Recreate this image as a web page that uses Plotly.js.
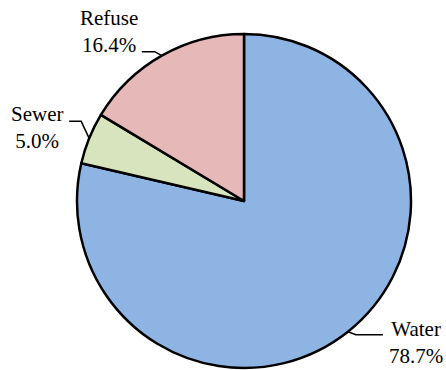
<!DOCTYPE html>
<html>
<head>
<meta charset="utf-8">
<script src="https://cdn.plot.ly/plotly-3.0.1.min.js"></script>
<style>html,body{margin:0;padding:0;background:#fff;}#chart{width:446px;height:370px;}</style>
</head>
<body>
<div id="chart"></div>
<script>
// ---- data ----
var labels = ['Water', 'Sewer', 'Refuse'];
var values = [78.7, 5.0, 16.4];
var pctLabels = ['78.7%', '5.0%', '16.4%'];
var colors = ['#8EB4E3', '#D7E4BD', '#E6B9B8'];

// ---- layout geometry (pixels) ----
var W = 446, H = 370;
var cx = 244, cy = 201, R = 167;
// per-slice leader styling: elbow offset from slice edge, horizontal run, label side/offsets
var leaderStyle = [
  {edx: 8, edy: 3, run: 27, side: 'left', tdx: 4, tdy: 7.5},
  {edx: -8, edy: -17, run: -12, side: 'right', tdx: -4, tdy: 6},
  {edx: -7, edy: -4, run: -13, side: 'right', tdx: -2, tdy: -20}
];

function px(x) { return x / W; }
function py(y) { return 1 - y / H; }

var total = values.reduce(function (a, b) { return a + b; }, 0);
var shapes = [], annotations = [];
var cum = 0;
for (var i = 0; i < values.length; i++) {
  var mid = (cum + values[i] / 2) / total * 2 * Math.PI;
  cum += values[i];
  var ex = cx + R * Math.sin(mid), ey = cy - R * Math.cos(mid);
  var s = leaderStyle[i];
  var bx = ex + s.edx, by = ey + s.edy;
  var hx = bx + s.run, hy = by;
  shapes.push({
    type: 'path', xref: 'paper', yref: 'paper',
    path: 'M' + px(ex) + ',' + py(ey) + ' L' + px(bx) + ',' + py(by) + ' L' + px(hx) + ',' + py(hy),
    line: {color: '#000', width: 1.5}
  });
  annotations.push({
    xref: 'paper', yref: 'paper',
    x: px(hx + s.tdx), y: py(hy + s.tdy),
    xanchor: s.side === 'left' ? 'left' : 'right', yanchor: 'middle',
    text: labels[i] + '<br>' + pctLabels[i],
    showarrow: false, align: 'center',
    font: {family: 'Liberation Serif', size: 21, color: '#000'}
  });
}

var trace = {
  type: 'pie',
  labels: labels,
  values: values,
  sort: false,
  direction: 'clockwise',
  rotation: 0,
  textinfo: 'none',
  hoverinfo: 'none',
  showlegend: false,
  marker: {colors: colors, line: {color: '#000', width: 2.5}},
  domain: {x: [(cx - R) / W, (cx + R) / W], y: [(H - cy - R) / H, (H - cy + R) / H]}
};

var layout = {
  width: W, height: H,
  margin: {l: 0, r: 0, t: 0, b: 0},
  paper_bgcolor: '#fff',
  showlegend: false,
  shapes: shapes,
  annotations: annotations
};

Plotly.newPlot('chart', [trace], layout, {displayModeBar: false, staticPlot: true});
</script>
</body>
</html>
